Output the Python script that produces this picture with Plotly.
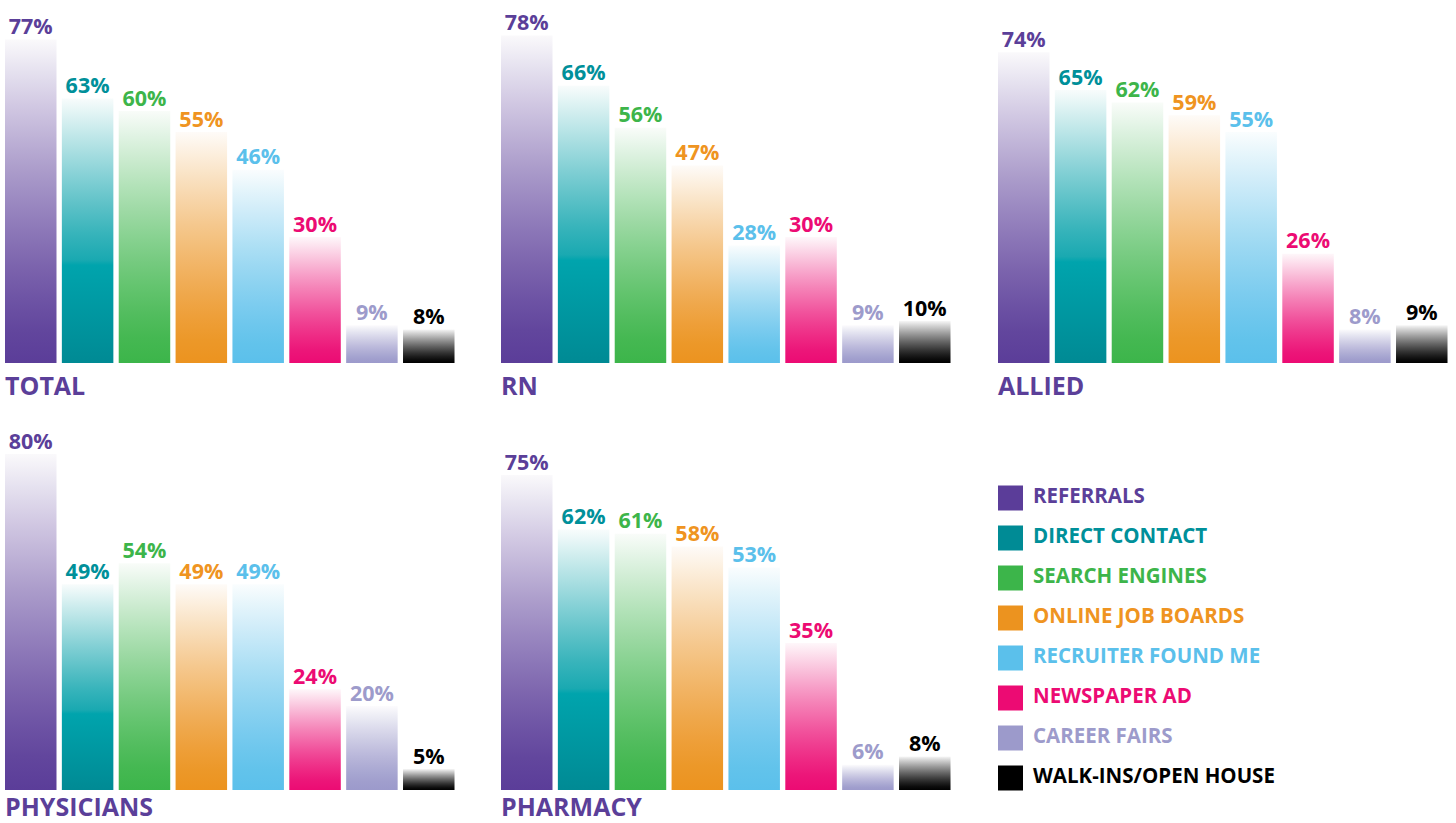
import plotly.graph_objects as go

# ---------------- data ----------------
categories = ["REFERRALS", "DIRECT CONTACT", "SEARCH ENGINES", "ONLINE JOB BOARDS",
              "RECRUITER FOUND ME", "NEWSPAPER AD", "CAREER FAIRS", "WALK-INS/OPEN HOUSE"]
panel_names = ["TOTAL", "RN", "ALLIED", "PHYSICIANS", "PHARMACY"]
total = [77, 63, 60, 55, 46, 30, 9, 8]
rn = [78, 66, 56, 47, 28, 30, 9, 10]
allied = [74, 65, 62, 59, 55, 26, 8, 9]
physicians = [80, 49, 54, 49, 49, 24, 20, 5]
pharmacy = [75, 62, 61, 58, 53, 35, 6, 8]
panel_values = [total, rn, allied, physicians, pharmacy]

# ---------------- styles ----------------
W, H = 1456, 823
base_colors = ["#5b3d99", "#008b95", "#3cb54a", "#ec931f", "#5bc0eb", "#ec0b73", "#9c9acb", "#000000"]
text_colors = ["#5b3f99", "#00909a", "#3db54a", "#ef9421", "#5bc0eb", "#ec0b73", "#9d9bcb", "#000000"]
title_color = "#5b3f99"
FONT = "Open Sans"


def hex2rgb(h):
    h = h.lstrip("#")
    return tuple(int(h[i:i + 2], 16) for i in (0, 2, 4))


def mix(c, f):
    r, g, b = hex2rgb(c)
    return "rgb(%d,%d,%d)" % (r + (255 - r) * f, g + (255 - g) * f, b + (255 - b) * f)


def colorscale(idx):
    c = base_colors[idx]
    if idx == 1:  # teal has a brighter band
        stops = [[0, "#008a94"], [0.37, "#00a4ad"], [0.39, "#1aa9b1"]]
        for k in range(1, 7):
            t = 0.39 + 0.61 * k / 6
            stops.append([t, mix("#1aa9b1", 0.97 * (k / 6) ** 1.1)])
        return stops
    stops = []
    for k in range(0, 11):
        t = k / 10
        stops.append([t, mix(c, 0.97 * t ** 1.3)])
    return stops


pitch = 56.86
bar_w = 51.5
hw = bar_w / pitch / 2
col_left = [5, 501, 998]
row_base = [363, 790]
title_offset = [22, 16]
px_per_unit = 4.2
y_max = 85
cells = [(0, 0), (0, 1), (0, 2), (1, 0), (1, 1)]

fig = go.Figure()
layout = {}

for p, (vals, name) in enumerate(zip(panel_values, panel_names)):
    r, c = cells[p]
    ax = "" if p == 0 else str(p + 1)
    left_px = col_left[c] - (pitch - bar_w) / 2
    dom_x = [left_px / W, (left_px + 8 * pitch) / W]
    base = row_base[r]
    top_px = base - y_max * px_per_unit
    dom_y = [(H - base) / H, (H - top_px) / H]
    layout["xaxis" + ax] = dict(domain=dom_x, range=[-0.5, 7.5], visible=False, fixedrange=True,
                                anchor="y" + ax)
    layout["yaxis" + ax] = dict(domain=dom_y, range=[0, y_max], visible=False, fixedrange=True,
                                anchor="x" + ax)
    for i, v in enumerate(vals):
        fig.add_trace(go.Scatter(
            x=[i - hw, i + hw, i + hw, i - hw, i - hw],
            y=[0, 0, v, v, 0],
            mode="lines", fill="toself",
            line=dict(width=0, color="rgba(0,0,0,0)"),
            fillgradient=dict(type="vertical", colorscale=colorscale(i)),
            hoverinfo="skip", showlegend=False,
            xaxis="x" + ax, yaxis="y" + ax,
        ))
    fig.add_trace(go.Scatter(
        x=list(range(len(vals))), y=vals,
        mode="text", text=["%d%%" % v for v in vals],
        textposition="top center",
        textfont=dict(family=FONT, size=21.5, color=text_colors, weight=700),
        hoverinfo="skip", showlegend=False,
        xaxis="x" + ax, yaxis="y" + ax, cliponaxis=False,
    ))
    # panel title
    title_y = base + title_offset[r]
    fig.add_annotation(
        text=name, xref="paper", yref="paper",
        x=col_left[c] / W - 0.0015, y=(H - title_y) / H,
        xanchor="left", yanchor="middle", showarrow=False,
        font=dict(family=FONT, size=25, color=title_color, weight=700),
    )

# legend drawn as its own axes
lg = "6"
leg_left, leg_right = 998, 1456
leg_top, leg_bot = 478, 798
layout["xaxis" + lg] = dict(domain=[leg_left / W, leg_right / W], range=[0, leg_right - leg_left],
                            visible=False, fixedrange=True, anchor="y" + lg)
layout["yaxis" + lg] = dict(domain=[(H - leg_bot) / H, (H - leg_top) / H], range=[7.5, -0.5],
                            visible=False, fixedrange=True, anchor="x" + lg)
idx = list(range(len(categories)))
fig.add_trace(go.Scatter(
    x=[12.5] * len(categories), y=idx, mode="markers",
    marker=dict(symbol="square", size=25, color=base_colors, line=dict(width=0)),
    hoverinfo="skip", showlegend=False, xaxis="x" + lg, yaxis="y" + lg, cliponaxis=False,
))
fig.add_trace(go.Scatter(
    x=[35] * len(categories), y=idx, mode="text", text=categories,
    textposition="middle right",
    textfont=dict(family=FONT, size=20.5, color=text_colors, weight=700),
    hoverinfo="skip", showlegend=False, xaxis="x" + lg, yaxis="y" + lg, cliponaxis=False,
))

fig.update_layout(
    **layout,
    width=W, height=H, autosize=False,
    margin=dict(l=0, r=0, t=0, b=0),
    paper_bgcolor="white", plot_bgcolor="white",
    showlegend=False,
)
fig.write_html("out.html", config={"displayModeBar": False})
